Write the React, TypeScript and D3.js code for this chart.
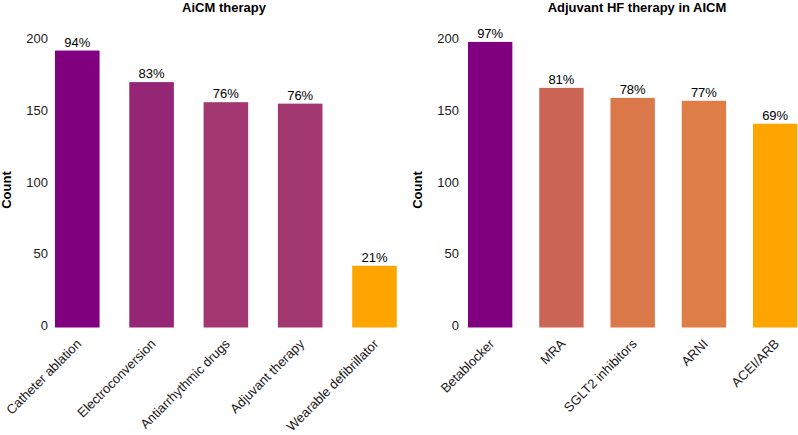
import React from "react";
import * as d3 from "d3";

const W = 798;
const H = 435;

const leftTitle = "AiCM therapy";
const leftCategories = [
  "Catheter ablation",
  "Electroconversion",
  "Antiarrhythmic drugs",
  "Adjuvant therapy",
  "Wearable defibrillator",
];
const leftValues = [193, 171, 157, 156, 43];
const leftPercents = ["94%", "83%", "76%", "76%", "21%"];

const rightTitle = "Adjuvant HF therapy in AICM";
const rightCategories = ["Betablocker", "MRA", "SGLT2 inhibitors", "ARNI", "ACEI/ARB"];
const rightValues = [199, 167, 160, 158, 142];
const rightPercents = ["97%", "81%", "78%", "77%", "69%"];

const yTicks = [0, 50, 100, 150, 200];
const yLabel = "Count";

const FONT = "'Liberation Sans', Arial, Helvetica, sans-serif";
const LOW = "#FFA500";
const HIGH = "#800080";

type PanelProps = {
  title: string;
  titleX: number;
  categories: string[];
  values: number[];
  percents: string[];
  range: [number, number];
  paddingInner: number;
  yLabelX: number;
  tickRight: number;
};

const yScale = d3.scaleLinear().domain([0, 200]).range([327.5, 40.5]);

function Panel(p: PanelProps) {
  const x = d3
    .scaleBand<string>()
    .domain(p.categories)
    .range(p.range)
    .paddingInner(p.paddingInner)
    .paddingOuter(0.3);
  const [vmin, vmax] = d3.extent(p.values) as [number, number];
  const color = d3
    .scaleLinear<string>()
    .domain([vmin, vmax])
    .range([LOW, HIGH])
    .interpolate(d3.interpolateLab);
  return (
    <g>
      <text
        x={p.titleX}
        y={12}
        textAnchor="middle"
        fontWeight="bold"
        fontSize={13}
        fill="#000"
      >
        {p.title}
      </text>
      <text
        transform={`translate(${p.yLabelX},${190}) rotate(-90)`}
        textAnchor="middle"
        fontWeight="bold"
        fontSize={13}
        fill="#000"
      >
        {yLabel}
      </text>
      {yTicks.map((t) => (
        <text
          key={t}
          x={p.tickRight}
          y={yScale(t) + 2.5}
          textAnchor="end"
          fontSize={13}
          fill="#1a1a1a"
        >
          {t}
        </text>
      ))}
      {p.categories.map((c, i) => {
        const bx = x(c)!;
        const v = p.values[i];
        return (
          <g key={c}>
            <rect
              x={bx}
              y={yScale(v)}
              width={x.bandwidth()}
              height={yScale(0) - yScale(v)}
              fill={color(v)}
            />
            <text
              x={bx + x.bandwidth() / 2}
              y={yScale(v) - 4}
              textAnchor="middle"
              fontSize={13}
              fill="#000"
            >
              {p.percents[i]}
            </text>
            <text
              transform={`translate(${bx + x.bandwidth() / 2 - 1.8},${338}) rotate(-45)`}
              textAnchor="end"
              dy="0.72em"
              fontSize={13.1}
              fill="#1a1a1a"
            >
              {c}
            </text>
          </g>
        );
      })}
    </g>
  );
}

export default function App() {
  return (
    <svg
      width={W}
      height={H}
      style={{ display: "block", position: "absolute", left: 0, top: 0, background: "#fff" }}
      fontFamily={FONT}
    >
      <rect x={0} y={0} width={W} height={H} fill="#fff" />
      <Panel
        title={leftTitle}
        titleX={224}
        categories={leftCategories}
        values={leftValues}
        percents={leftPercents}
        range={[32.7, 32.7 + 74.3 * 5.2]}
        paddingInner={0.4}
        yLabelX={11}
        tickRight={48}
      />
      <Panel
        title={rightTitle}
        titleX={637}
        categories={rightCategories}
        values={rightValues}
        percents={rightPercents}
        range={[446.6, 446.6 + 71.25 * (5 - 0.377 + 0.6)]}
        paddingInner={0.377}
        yLabelX={422}
        tickRight={459}
      />
    </svg>
  );
}
